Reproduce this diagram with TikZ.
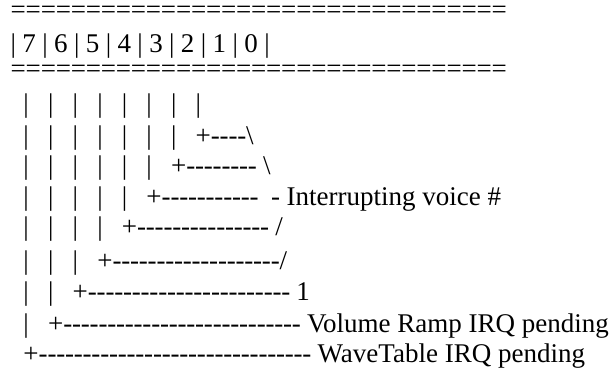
\documentclass[tikz,border=0pt]{standalone}
\usepackage{fontspec}
\setmainfont{Liberation Serif}
\usetikzlibrary{positioning}
\newcommand{\asciifont}{\fontsize{27}{31}\selectfont}
\newlength{\gapwd}
\setlength{\gapwd}{6.4pt}
\newcommand{\gapsp}{\kern\gapwd}
\newcommand{\dashrun}[1]{\foreach \idx in {1,...,#1}{-\kern-0.2pt}}
\newcommand{\eqrun}[1]{\foreach \idx in {1,...,#1}{=\kern-0.2pt}}
\newcommand{\legs}[1]{\foreach \idx in {1,...,#1}{|\gapsp\gapsp\gapsp}}

\begin{document}
\begin{tikzpicture}[x=1pt, y=-1pt, asc/.style={anchor=base west, inner sep=0pt, font=\asciifont}]
  \useasboundingbox (0,0) rectangle (615,370);
  % register box
  \node[asc] (eqtop) at (10.5,18.5) {\eqrun{33}};
  \node[asc] (bitrow) at (10.5,52.5) {\foreach \bitno in {7,...,0}{|\gapsp\bitno\gapsp}|};
  \node[asc] (eqbot) at (10.5,77.5) {\eqrun{33}};
  % bit legs
  \node[asc] (stubs) at (10.5,112) {\gapsp\gapsp\legs{7}|};
  \node[asc] (bit0) at (10.5,144) {\gapsp\gapsp\legs{7}+\dashrun{4}\textbackslash};
  \node[asc] (bit1) at (10.5,174) {\gapsp\gapsp\legs{6}+\dashrun{8}\gapsp\textbackslash};
  \node[asc] (bit2) at (10.5,205) {\gapsp\gapsp\legs{5}+\dashrun{11}\gapsp\gapsp-\gapsp Interrupting voice \#};
  \node[asc] (bit3) at (10.5,235) {\gapsp\gapsp\legs{4}+\dashrun{15}\gapsp/};
  \node[asc] (bit4) at (10.5,269) {\gapsp\gapsp\legs{3}+\dashrun{19}/};
  \node[asc] (bit5) at (10.5,300) {\gapsp\gapsp\legs{2}+\dashrun{23}\gapsp1};
  \node[asc] (bit6) at (10.5,332) {\gapsp\gapsp\legs{1}+\dashrun{27}\gapsp Volume Ramp IRQ pending};
  \node[asc] (bit7) at (10.5,362) {\gapsp\gapsp+\dashrun{31}\gapsp WaveTable IRQ pending};
\end{tikzpicture}
\end{document}
